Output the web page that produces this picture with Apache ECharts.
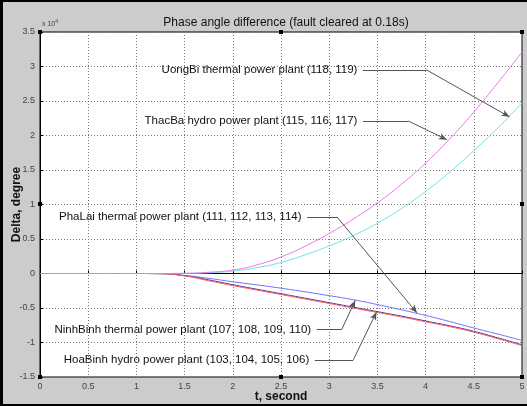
<!DOCTYPE html>
<html><head><meta charset="utf-8">
<script src="https://cdn.jsdelivr.net/npm/echarts@6/dist/echarts.min.js"></script>
<style>html,body{margin:0;padding:0;background:#ccc}#c{width:527px;height:406px}</style>
</head><body><div id="c"></div>
<script>
// time axis (seconds)
const times    = [0, 0.5, 1, 1.25, 1.5, 1.75, 2, 2.25, 2.5, 2.75, 3, 3.25, 3.5, 3.75, 4, 4.25, 4.5, 4.75, 5];
// phase angle difference (degree)
const uongBi   = [0, 0, 0, 0, 30, 180, 500, 1250, 2400, 3950, 5800, 7900, 10250, 12950, 16000, 19500, 23400, 27650, 32100];
const thacBa   = [0, 0, 0, 0, 20, 100, 350, 850, 1600, 2700, 4000, 5500, 7300, 9400, 11900, 14700, 17800, 21100, 24700];
const ninhBinh = [0, 0, 0, -20, -280, -700, -1200, -1650, -2130, -2650, -3210, -3800, -4500, -5260, -6080, -6960, -7900, -8780, -9700];
const phaLai   = [0, 0, 0, -25, -320, -930, -1630, -2280, -2930, -3580, -4230, -4880, -5530, -6180, -6880, -7580, -8380, -9330, -10330];
const hoaBinh  = [0, 0, 0, -30, -350, -1050, -1750, -2400, -3050, -3700, -4350, -5000, -5650, -6300, -7000, -7700, -8500, -9450, -10450];
const xTicks = [0, 0.5, 1, 1.5, 2, 2.5, 3, 3.5, 4, 4.5, 5];
const yTicks = [-1.5, -1, -0.5, 0, 0.5, 1, 1.5, 2, 2.5, 3, 3.5];

// annotation labels: text, leader start, elbow, arrow tip (data coords)
const annLabels = ['UongBi thermal power plant (118, 119)', 'ThacBa hydro power plant (115, 116, 117)',
  'PhaLai thermal power plant (111, 112, 113, 114)', 'NinhBinh thermal power plant (107, 108, 109, 110)',
  'HoaBinh hydro power plant (103, 104, 105, 106)'];
const annStart = [[3.35, 29500], [3.35, 22100], [2.77, 8200], [2.87, -8100], [2.85, -12500]];
const annElbow = [[4.01, 29500], [3.82, 22100], [3.08, 8200], [3.13, -8100], [3.25, -12500]];
const annTip   = [[4.87, 22700], [4.22, 19400], [3.91, -5700], [3.27, -3900], [3.49, -5600]];

const pairs = v => times.map((t, i) => [t, v[i]]);
const chart = echarts.init(document.getElementById('c'));

const markLineData = [];
annLabels.forEach((s, i) => {
  markLineData.push([{coord: annStart[i], symbol: 'none'}, {coord: annElbow[i], symbol: 'none'}]);
  markLineData.push([{coord: annElbow[i], symbol: 'none'}, {coord: annTip[i], symbol: 'arrow', symbolSize: [5, 8]}]);
});
const markPointData = annLabels.map((s, i) => ({
  coord: annStart[i], value: s, symbol: 'rect', symbolSize: 1,
  itemStyle: {color: 'rgba(0,0,0,0)'},
  label: {show: true, position: 'left', distance: 5, formatter: s, color: '#111', fontSize: 11.5, fontFamily: 'Liberation Sans, Arial'}
}));

const mkSeries = (name, v, color, extra) => Object.assign({
  name, type: 'line', data: pairs(v), showSymbol: false, smooth: 0.5,
  lineStyle: {color, width: 1}, itemStyle: {color}, silent: true, animation: false, z: 3
}, extra || {});

const handles = [];
const hx = [40, 281, 522], hy = [32, 204, 377];
[[0,0],[1,0],[2,0],[0,1],[2,1],[0,2],[1,2],[2,2]].forEach(([a,b]) => {
  handles.push({type: 'rect', shape: {x: hx[a]-2, y: hy[b]-2, width: 4, height: 4}, style: {fill: '#000'}, z: 100});
});

chart.setOption({
  animation: false,
  backgroundColor: '#cccccc',
  textStyle: {fontFamily: 'Liberation Sans, Arial'},
  title: {text: 'Phase angle difference (fault cleared at 0.18s)', left: 281, textAlign: 'center', top: 12,
    textStyle: {fontSize: 12, fontWeight: 'normal', color: '#111', fontFamily: 'Liberation Sans, Arial'}},
  grid: {left: 40, right: 5, top: 32, bottom: 29, show: true, backgroundColor: '#fff', borderColor: '#000', borderWidth: 1,
    containLabel: false, outerBoundsMode: 'none'},
  xAxis: {type: 'value', min: 0, max: 5, interval: 0.5,
    name: 't, second', nameLocation: 'middle', nameGap: 14, nameMoveOverlap: false,
    nameTextStyle: {fontSize: 12, fontWeight: 'bold', color: '#111', verticalAlign: 'top'},
    axisLine: {lineStyle: {color: '#000'}}, axisTick: {inside: true, length: 3, lineStyle: {color: '#000'}},
    axisLabel: {fontSize: 9, color: '#444', margin: 5, formatter: v => xTicks.includes(v) ? String(v) : ''},
    splitLine: {show: true, lineStyle: {color: '#777', type: [1, 2], width: 1}}},
  yAxis: {type: 'value', min: -15000, max: 35000, interval: 5000,
    name: 'Delta, degree', nameLocation: 'middle', nameGap: 17, nameRotate: 90, nameMoveOverlap: false,
    nameTextStyle: {fontSize: 12, fontWeight: 'bold', color: '#111'},
    axisLine: {show: true, lineStyle: {color: '#000'}}, axisTick: {show: true, inside: true, length: 3, lineStyle: {color: '#000'}},
    axisLabel: {fontSize: 9, color: '#444', margin: 5, formatter: v => { const k = v / 10000; return yTicks.includes(k) ? String(k) : ''; }},
    splitLine: {show: true, lineStyle: {color: '#777', type: [1, 2], width: 1}}},
  graphic: [
    {type: 'text', left: 42, top: 19, style: {text: '{a|x 10}{b|4}', rich: {a: {fontSize: 7, fill: '#444'}, b: {fontSize: 5, fill: '#444', verticalAlign: 'top', padding: [0,0,5,0]}}}},
    {type: 'rect', shape: {x: 0, y: 0, width: 3, height: 406}, style: {fill: '#000'}, z: 100},
    {type: 'rect', shape: {x: 0, y: 0, width: 527, height: 2}, style: {fill: '#000'}, z: 100},
    {type: 'rect', shape: {x: 0, y: 404, width: 527, height: 2}, style: {fill: '#000'}, z: 100}
  ].concat(handles),
  series: [
    mkSeries('ThacBa', thacBa, '#6fe3e3'),
    mkSeries('NinhBinh', ninhBinh, '#7070ff'),
    mkSeries('PhaLai', phaLai, '#4a2f9a'),
    mkSeries('HoaBinh', hoaBinh, '#ff5a5a'),
    mkSeries('UongBi', uongBi, '#e77ce7', {
      markLine: {silent: true, animation: false, label: {show: false}, lineStyle: {color: '#555', width: 1, type: 'solid'}, data: markLineData},
      markPoint: {silent: true, animation: false, data: markPointData}
    })
  ]
});
</script></body></html>
